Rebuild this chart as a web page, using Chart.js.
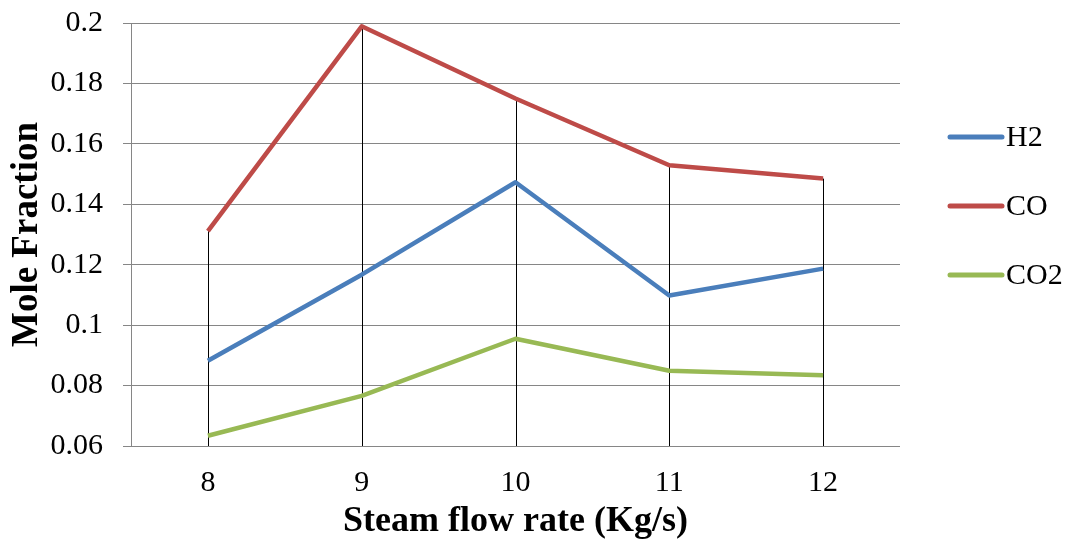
<!DOCTYPE html>
<html>
<head>
<meta charset="utf-8">
<script src="https://cdn.jsdelivr.net/npm/chart.js@4/dist/chart.umd.min.js"></script>
<style>
  html, body { margin: 0; padding: 0; background: #fff; }
  #wrap { width: 1075px; height: 543px; }
</style>
</head>
<body>
<div id="wrap"><canvas id="gasChart" width="1075" height="543"></canvas></div>
<script>
const steamFlow = ["8", "9", "10", "11", "12"];
const h2 = [0.0882, 0.1167, 0.1473, 0.1098, 0.1187];
const co = [0.1311, 0.1989, 0.1750, 0.1529, 0.1485];
const co2 = [0.0634, 0.0766, 0.0955, 0.0849, 0.0834];
const yTicks = [0.06, 0.08, 0.1, 0.12, 0.14, 0.16, 0.18, 0.2];

const serif = '"Liberation Serif", "Times New Roman", serif';

// black drop lines from the highest point at each category down to the axis
const dropLines = {
  id: "dropLines",
  beforeDatasetsDraw(chart) {
    const { ctx, chartArea, scales } = chart;
    const sets = chart.data.datasets;
    ctx.save();
    ctx.strokeStyle = "#000";
    ctx.lineWidth = 1;
    chart.data.labels.forEach((lab, i) => {
      const top = Math.max(...sets.map(d => d.data[i]));
      const x = Math.round(scales.x.getPixelForValue(i)) + 0.5;
      ctx.beginPath();
      ctx.moveTo(x, scales.y.getPixelForValue(top));
      ctx.lineTo(x, chartArea.bottom);
      ctx.stroke();
    });
    ctx.restore();
  }
};

// legend on the right: short line + name
const sideLegend = {
  id: "sideLegend",
  afterDraw(chart) {
    const { ctx } = chart;
    ctx.save();
    ctx.font = "30px " + serif;
    ctx.textBaseline = "middle";
    ctx.textAlign = "left";
    chart.data.datasets.forEach((ds, i) => {
      const y = 137 + i * 69;
      ctx.strokeStyle = ds.borderColor;
      ctx.lineWidth = 5;
      ctx.lineCap = "round";
      ctx.beginPath();
      ctx.moveTo(950, y);
      ctx.lineTo(1002, y);
      ctx.stroke();
      ctx.fillStyle = "#000";
      ctx.fillText(ds.label, 1006, y + 1);
    });
    ctx.restore();
  }
};

const series = (label, data, color) => ({
  label,
  data,
  borderColor: color,
  backgroundColor: color,
  borderWidth: 4.5,
  pointRadius: 0,
  tension: 0,
  borderJoinStyle: "round"
});

new Chart(document.getElementById("gasChart"), {
  type: "line",
  data: {
    labels: steamFlow,
    datasets: [
      series("H2", h2, "#4A7EBB"),
      series("CO", co, "#BE4B48"),
      series("CO2", co2, "#98B954")
    ]
  },
  options: {
    responsive: false,
    animation: false,
    layout: { padding: { top: 23, right: 175, left: 0, bottom: 0 } },
    plugins: {
      legend: { display: false },
      tooltip: { enabled: false }
    },
    scales: {
      x: {
        offset: true,
        grid: { display: false, drawTicks: false },
        border: { display: false },
        ticks: { color: "#000", padding: 19, font: { family: serif, size: 30 } },
        title: {
          display: true,
          text: "Steam flow rate (Kg/s)",
          color: "#000",
          padding: { top: 0, bottom: 0 },
          font: { family: serif, size: 36, weight: "bold" }
        },
        afterFit(scale) {
          scale.height = 97;
          scale.paddingLeft = 0;
          scale.paddingRight = 0;
        }
      },
      y: {
        min: 0.06,
        max: 0.2,
        afterBuildTicks(scale) { scale.ticks = yTicks.map(v => ({ value: v })); },
        grid: { color: "#868686", lineWidth: 1, tickLength: 8 },
        border: { color: "#868686" },
        ticks: {
          color: "#000",
          padding: 20,
          font: { family: serif, size: 30 },
          callback: v => String(parseFloat(v.toFixed(2)))
        },
        title: {
          display: true,
          text: "Mole Fraction",
          color: "#000",
          padding: { top: 5, bottom: 0 },
          font: { family: serif, size: 37, weight: "bold" }
        },
        afterFit(scale) {
          scale.width = 131;
          scale.paddingTop = 0;
          scale.paddingBottom = 0;
        }
      }
    }
  },
  plugins: [dropLines, sideLegend]
});
</script>
</body>
</html>
